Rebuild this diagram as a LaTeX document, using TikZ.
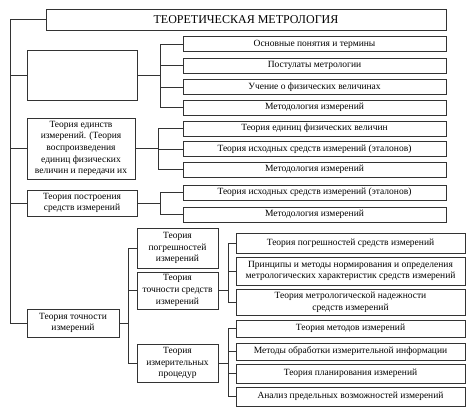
\documentclass[tikz,border=0pt]{standalone}
\usepackage{fontspec}
\setmainfont{Liberation Serif}
\usetikzlibrary{positioning}
\tikzset{
  box/.style={draw=black!80,line width=0.8pt,inner sep=0pt,align=center,
    font=\fontsize{9.5}{11.6}\selectfont},
  link/.style={black!80,line width=0.8pt}
}
\begin{document}
\begin{tikzpicture}[x=1pt,y=-1pt]
\useasboundingbox (0,0) rectangle (474,419);
% title
\node[box,minimum width=400pt,minimum height=21pt,font=\fontsize{12}{14}\selectfont] (top) at (246,19.5) {ТЕОРЕТИЧЕСКАЯ МЕТРОЛОГИЯ};
% left column
\node[box,minimum width=110pt,minimum height=50pt] (b1) at (82,75) {};
\node[box,minimum width=108pt,minimum height=61pt] (b2) at (81,148.5) {Теория единств\\измерений. (Теория\\воспроизведения\\единиц физических\\величин и передачи их};
\node[box,minimum width=110pt,minimum height=26pt] (b3) at (82,203) {Теория построения\\средств измерений};
\node[box,minimum width=92pt,minimum height=28pt] (b4) at (73,323) {Теория точности\\измерений};
% first group
\node[box,minimum width=263pt,minimum height=15pt] (o1) at (314.5,44) {Основные понятия и термины};
\node[box,minimum width=263pt,minimum height=15pt] (o2) at (314.5,65.5) {Постулаты метрологии};
\node[box,minimum width=263pt,minimum height=15pt] (o3) at (314.5,87) {Учение о физических величинах};
\node[box,minimum width=263pt,minimum height=15pt] (o4) at (314.5,107.5) {Методология измерений};
% second group
\node[box,minimum width=263pt,minimum height=15pt] (u1) at (314.5,128.5) {Теория единиц физических величин};
\node[box,minimum width=263pt,minimum height=15pt] (u2) at (314.5,149) {Теория исходных средств измерений (эталонов)};
\node[box,minimum width=263pt,minimum height=15pt] (u3) at (314.5,169.5) {Методология измерений};
% third group
\node[box,minimum width=263pt,minimum height=15pt] (p1) at (314.5,192.5) {Теория исходных средств измерений (эталонов)};
\node[box,minimum width=263pt,minimum height=15pt] (p2) at (314.5,214.5) {Методология измерений};
% middle column
\node[box,minimum width=81pt,minimum height=40pt] (m1) at (177.5,248) {Теория\\погрешностей\\измерений};
\node[box,minimum width=81pt,minimum height=37pt] (m2) at (177.5,290.5) {Теория\\точности средств\\измерений};
\node[box,minimum width=81pt,minimum height=38pt] (m3) at (177.5,363) {Теория\\измерительных\\процедур};
% right column
\node[box,minimum width=229pt,minimum height=20pt] (r1) at (350.5,243) {Теория погрешностей средств измерений};
\node[box,minimum width=229pt,minimum height=28pt] (r2) at (350.5,271) {Принципы и методы нормирования и определения\\метрологических характеристик средств измерений};
\node[box,minimum width=229pt,minimum height=26pt] (r3) at (350.5,302) {Теория метрологической надежности\\средств измерений};
\node[box,minimum width=229pt,minimum height=17pt] (r4) at (350.5,328.5) {Теория методов измерений};
\node[box,minimum width=229pt,minimum height=17pt] (r5) at (350.5,351.5) {Методы обработки измерительной информации};
\node[box,minimum width=229pt,minimum height=19pt] (r6) at (350.5,373.5) {Теория планирования измерений};
\node[box,minimum width=229pt,minimum height=19pt] (r7) at (350.5,396.5) {Анализ предельных возможностей измерений};
% junctions
\coordinate (jt) at (10,19.5);
\coordinate (j1) at (160,75);
\coordinate (j2) at (158,148.5);
\coordinate (j3) at (160,203);
\coordinate (j4) at (128,323);
\coordinate (j5) at (228,290.5);
\coordinate (j6) at (228,363);
% connectors
\draw[link] (top.west) -- (jt);
\foreach \n in {b1,b2,b3,b4} \draw[link] (jt) |- (\n.west);
\draw[link] (b1.east) -- (j1);
\foreach \n in {o1,o2,o3,o4} \draw[link] (j1) |- (\n.west);
\draw[link] (b2.east) -- (j2);
\foreach \n in {u1,u2,u3} \draw[link] (j2) |- (\n.west);
\draw[link] (b3.east) -- (j3);
\foreach \n in {p1,p2} \draw[link] (j3) |- (\n.west);
\draw[link] (b4.east) -- (j4);
\foreach \n in {m1,m2,m3} \draw[link] (j4) |- (\n.west);
\draw[link] (m2.east) -- (j5);
\foreach \n in {r1,r2,r3} \draw[link] (j5) |- (\n.west);
\draw[link] (m3.east) -- (j6);
\foreach \n in {r4,r5,r6,r7} \draw[link] (j6) |- (\n.west);
\end{tikzpicture}
\end{document}
